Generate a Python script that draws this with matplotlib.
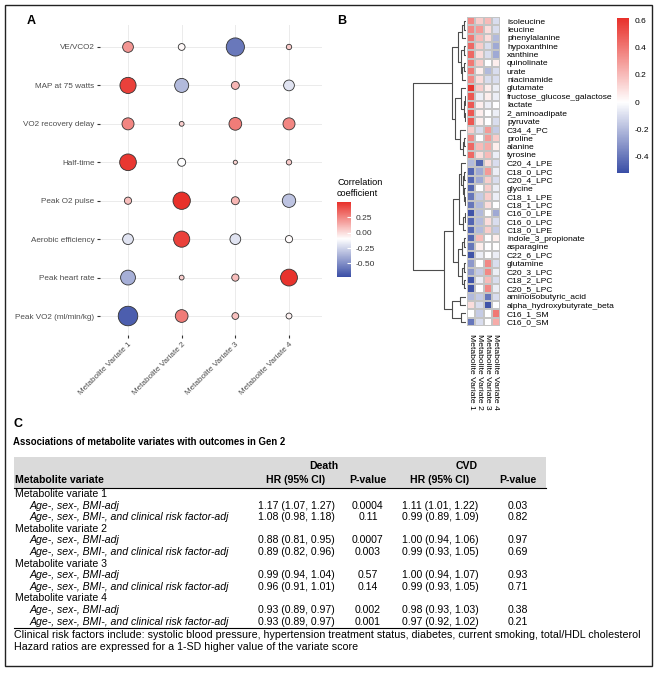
import numpy as np
import matplotlib
matplotlib.use("Agg")
import matplotlib.pyplot as plt
from matplotlib.colors import LinearSegmentedColormap, Normalize
from matplotlib.cm import ScalarMappable
from matplotlib.patches import Rectangle

plt.rcParams['font.family'] = ['Liberation Sans', 'DejaVu Sans']

# ---- panel A: correlation dots ----
outcomes = ["VE/VCO2", "MAP at 75 watts", "VO2 recovery delay", "Half-time",
            "Peak O2 pulse", "Aerobic efficiency", "Peak heart rate", "Peak VO2 (ml/min/kg)"]
variates = ["Metabolite Variate 1", "Metabolite Variate 2", "Metabolite Variate 3", "Metabolite Variate 4"]
corr_v1 = [0.20, 0.45, 0.25, 0.48, 0.09, -0.20, -0.38, -0.66]
corr_v2 = [-0.08, -0.34, 0.04, -0.11, 0.52, 0.45, 0.04, 0.28]
corr_v3 = [-0.57, 0.11, 0.28, 0.03, 0.11, -0.20, 0.09, 0.08]
corr_v4 = [0.05, -0.20, 0.25, 0.05, -0.31, -0.09, 0.49, -0.06]

# ---- panel B: heatmap ----
metabolites = ["isoleucine", "leucine", "phenylalanine", "hypoxanthine", "xanthine", "quinolinate",
               "urate", "niacinamide", "glutamate", "fructose_glucose_galactose", "lactate",
               "2_aminoadipate", "pyruvate", "C34_4_PC", "proline", "alanine", "tyrosine",
               "C20_4_LPE", "C18_0_LPC", "C20_4_LPC", "glycine", "C18_1_LPE", "C18_1_LPC",
               "C16_0_LPE", "C16_0_LPC", "C18_0_LPE", "indole_3_propionate", "asparagine",
               "C22_6_LPC", "glutamine", "C20_3_LPC", "C18_2_LPC", "C20_5_LPC",
               "aminoisobutyric_acid", "alpha_hydroxybutyrate_beta", "C16_1_SM", "C16_0_SM"]
hm_v1 = [0.35, 0.35, 0.40, 0.45, 0.45, 0.40, 0.40, 0.35, 0.60, 0.50, 0.50, 0.50, 0.50,
         0.15, 0.35, 0.45, 0.45, -0.20, -0.45, -0.45, -0.45, -0.40, -0.40, -0.50, -0.45,
         -0.45, -0.45, -0.40, -0.50, -0.30, -0.30, -0.50, -0.50, -0.20, 0.10, 0.00, -0.40]
hm_v2 = [0.15, 0.30, 0.20, 0.15, 0.10, 0.15, 0.05, 0.10, 0.15, -0.05, 0.05, 0.05, 0.05,
         -0.10, 0.00, 0.20, 0.10, -0.45, -0.25, -0.25, 0.00, -0.15, -0.20, -0.20, -0.20,
         -0.20, 0.20, 0.05, -0.05, 0.00, -0.15, -0.05, 0.00, -0.15, -0.10, -0.15, -0.10]
hm_v3 = [0.20, 0.10, 0.10, -0.10, -0.10, 0.00, -0.20, -0.10, 0.05, 0.05, -0.05, 0.00, 0.00,
         0.30, 0.30, 0.25, 0.20, 0.10, 0.30, 0.15, 0.15, 0.15, 0.10, 0.00, 0.10,
         0.15, 0.00, 0.00, 0.00, 0.35, 0.35, 0.20, 0.35, -0.40, -0.50, 0.00, 0.00]
hm_v4 = [-0.10, -0.10, -0.20, -0.25, -0.25, 0.05, -0.10, -0.10, -0.05, -0.05, 0.00, -0.05, -0.10,
         -0.15, 0.15, 0.05, -0.05, -0.10, -0.05, -0.10, -0.05, -0.05, 0.00, -0.25, -0.10,
         -0.15, 0.05, 0.00, -0.05, -0.10, -0.05, -0.10, -0.05, -0.10, 0.00, 0.40, 0.25]
hm_cols = ["Metabolite Variate 1", "Metabolite Variate 2", "Metabolite Variate 3", "Metabolite Variate 4"]

# dendrogram as nested [left, right, height], leaves are row indexes
tree_top_a = [[[0, 1, 0.03], 2, 0.07], [[3, 4, 0.03], [[5, 6, 0.04], 7, 0.07], 0.10], 0.15]
tree_top_b = [[8, [[9, 10, 0.02], [11, 12, 0.02], 0.04], 0.09], [13, [[14, 15, 0.04], 16, 0.06], 0.12], 0.21]
tree_lip_a = [[17, [[18, 19, 0.03], [20, [21, 22, 0.02], 0.04], 0.06], 0.10], [[23, 24, 0.02], 25, 0.05], 0.14]
tree_lip_b = [[[26, 27, 0.04], 28, 0.07], [[29, 30, 0.03], [31, 32, 0.03], 0.08], 0.16]
tree_sm = [[33, 34, 0.12], [35, 36, 0.10], 0.27]
tree = [[tree_top_a, tree_top_b, 0.26], [[tree_lip_a, tree_lip_b, 0.25], tree_sm, 0.42], 1.0]

# ---- panel C: table ----
variate_names = ["Metabolite variate 1", "Metabolite variate 2", "Metabolite variate 3", "Metabolite variate 4"]
models = ["Age-, sex-, BMI-adj", "Age-, sex-, BMI-, and clinical risk factor-adj"]
death_hr = ["1.17 (1.07, 1.27)", "1.08 (0.98, 1.18)", "0.88 (0.81, 0.95)", "0.89 (0.82, 0.96)",
            "0.99 (0.94, 1.04)", "0.96 (0.91, 1.01)", "0.93 (0.89, 0.97)", "0.93 (0.89, 0.97)"]
death_p = ["0.0004", "0.11", "0.0007", "0.003", "0.57", "0.14", "0.002", "0.001"]
cvd_hr = ["1.11 (1.01, 1.22)", "0.99 (0.89, 1.09)", "1.00 (0.94, 1.06)", "0.99 (0.93, 1.05)",
          "1.00 (0.94, 1.07)", "0.99 (0.93, 1.05)", "0.98 (0.93, 1.03)", "0.97 (0.92, 1.02)"]
cvd_p = ["0.03", "0.82", "0.97", "0.69", "0.93", "0.71", "0.38", "0.21"]
footnotes = ["Clinical risk factors include: systolic blood pressure, hypertension treatment status, diabetes, current smoking, total/HDL cholesterol",
             "Hazard ratios are expressed for a 1-SD higher value of the variate score"]

BLUE, RED = "#3A4EA6", "#E8302A"
W, H = 658, 673
fig = plt.figure(figsize=(W / 100, H / 100), dpi=100)


def px_axes(x0, y0, x1, y1):
    return fig.add_axes([x0 / W, 1 - y1 / H, (x1 - x0) / W, (y1 - y0) / H])


def ptext(x, y, s, **kw):
    kw.setdefault("va", "center")
    fig.text(x / W, 1 - y / H, s, **kw)


# ===== A =====
lo_a, mid_a, hi_a = -0.72, -0.10, 0.50
cmap_a = LinearSegmentedColormap.from_list(
    "a", [(0, BLUE), ((mid_a - lo_a) / (hi_a - lo_a), "white"), (1, RED)])
norm_a = Normalize(lo_a, hi_a)

ax = px_axes(100, 25, 322, 335)
n = len(outcomes)
ypos = n - np.arange(n)
for j, vals in enumerate([corr_v1, corr_v2, corr_v3, corr_v4]):
    vals = np.array(vals)
    ax.scatter(np.full(n, j + 1), ypos, s=300 * np.abs(vals), c=vals, cmap=cmap_a, norm=norm_a,
               edgecolors="#333333", linewidths=0.6, zorder=3)
ax.set_xlim(0.478, 4.615)
ax.set_ylim(0.506, 8.572)
ax.set_yticks(ypos)
ax.set_yticklabels(outcomes)
ax.set_xticks(np.arange(1, 5))
ax.set_xticklabels(variates, rotation=45, ha="right", va="top", rotation_mode="anchor")
ax.tick_params(length=2.5, width=0.8, color="#333333", labelsize=5.9, labelcolor="#4D4D4D", pad=1.5)
ax.grid(color="#EBEBEB", lw=0.7)
ax.set_axisbelow(True)
for sp in ax.spines.values():
    sp.set_visible(False)

cax = px_axes(337, 202, 351, 277)
cb = fig.colorbar(ScalarMappable(norm_a, cmap_a), cax=cax, ticks=[-0.5, -0.25, 0, 0.25])
cb.outline.set_visible(False)
cb.ax.set_yticklabels(["-0.50", "-0.25", "0.00", "0.25"])
cb.ax.tick_params(length=3, color="white", width=0.8, direction="in", labelsize=6,
                  labelcolor="#333333", pad=3)
ptext(337, 188, "Correlation\ncoefficient", fontsize=6.6, linespacing=1.15)

# ===== B =====
lo_b, hi_b = -0.517, 0.615
cmap_b = LinearSegmentedColormap.from_list("b", [(0, BLUE), (-lo_b / (hi_b - lo_b), "white"), (1, RED)])
norm_b = Normalize(lo_b, hi_b)
data = np.column_stack([hm_v1, hm_v2, hm_v3, hm_v4])
nr = len(metabolites)

hx = px_axes(467, 17, 500, 326)
hx.pcolormesh(np.arange(5), np.arange(nr + 1), data, cmap=cmap_b, norm=norm_b,
              edgecolors="#C4C4C4", linewidth=0.3)
hx.set_ylim(nr, 0)
hx.set_xlim(0, 4)
hx.set_yticks(np.arange(nr) + 0.5)
hx.set_yticklabels(metabolites)
hx.set_xticks(np.arange(4) + 0.5)
hx.set_xticklabels(hm_cols, rotation=-90, va="top", ha="center")
hx.tick_params(left=False, bottom=False, labelleft=False, labelright=True, labelsize=6.1, pad=1.5)
hx.tick_params(axis="x", pad=2)
for sp in hx.spines.values():
    sp.set_visible(False)

dx = px_axes(405, 17, 466, 326)


def draw_tree(node):
    if isinstance(node, int):
        return node + 0.5, 0.0
    left, right, h = node
    yl, hl = draw_tree(left)
    yr, hr = draw_tree(right)
    dx.plot([hl, h, h, hr], [yl, yl, yr, yr], color="#4D4D4D", lw=0.8, solid_capstyle="butt")
    return (yl + yr) / 2, h


draw_tree(tree)
dx.set_ylim(nr, 0)
dx.set_xlim(61 / 53, 0)
dx.axis("off")

cbx = px_axes(617, 18, 629, 173)
cb2 = fig.colorbar(ScalarMappable(norm_b, cmap_b), cax=cbx, ticks=[-0.4, -0.2, 0, 0.2, 0.4, 0.6])
cb2.outline.set_visible(False)
cb2.ax.set_yticklabels(["-0.4", "-0.2", "0", "0.2", "0.4", "0.6"])
cb2.ax.tick_params(length=0, labelsize=6, pad=4)

# ===== labels =====
ptext(27, 21, "A", fontsize=9, fontweight="bold")
ptext(337, 21, "B", fontsize=9, fontweight="bold")
ptext(13, 424, "C", fontsize=9, fontweight="bold")

# ===== C table =====
fs = 7.6
ptext(13, 442, "Associations of metabolite variates with outcomes in Gen 2", fontsize=6.9, fontweight="bold")
fig.add_artist(Rectangle((14 / W, 1 - 487.5 / H), 532 / W, 30.5 / H, transform=fig.transFigure,
                         facecolor="#DADADA", edgecolor="none"))
fig.add_artist(plt.Line2D([14 / W, 546 / W], [1 - 487.5 / H] * 2, color="black", lw=0.8))
col_hr_d, col_p_d, col_hr_c, col_p_c = 296, 368, 440, 518
ptext((col_hr_d + col_p_d) / 2 - 8, 466, "Death", fontsize=fs, fontweight="bold", ha="center")
ptext((col_hr_c + col_p_c) / 2 - 12, 466, "CVD", fontsize=fs, fontweight="bold", ha="center")
ptext(15, 480, "Metabolite variate", fontsize=fs, fontweight="bold")
for cx, lab in [(col_hr_d, "HR (95% CI)"), (col_p_d, "P-value"), (col_hr_c, "HR (95% CI)"), (col_p_c, "P-value")]:
    ptext(cx, 480, lab, fontsize=fs, fontweight="bold", ha="center")

y0, dy = 494, 11.6
k = 0
for i, vn in enumerate(variate_names):
    y = y0 + dy * (3 * i)
    ptext(15, y, vn, fontsize=fs)
    for m, mod in enumerate(models):
        yy = y + dy * (m + 1)
        ptext(30, yy, mod, fontsize=fs, style="italic")
        ptext(col_hr_d, yy, death_hr[k], fontsize=fs, ha="center")
        ptext(col_p_d, yy, death_p[k], fontsize=fs, ha="center")
        ptext(col_hr_c, yy, cvd_hr[k], fontsize=fs, ha="center")
        ptext(col_p_c, yy, cvd_p[k], fontsize=fs, ha="center")
        k += 1
fig.add_artist(plt.Line2D([14 / W, 475 / W], [1 - 628 / H] * 2, color="black", lw=0.8))
ptext(14, 635, footnotes[0], fontsize=7.7)
ptext(14, 647, footnotes[1], fontsize=7.7)

# outer border
fig.add_artist(Rectangle((5 / W, 1 - 666 / H), 647 / W, 661 / H, transform=fig.transFigure,
                         fill=False, edgecolor="#222222", lw=1))

fig.savefig("out.png", dpi=100)
